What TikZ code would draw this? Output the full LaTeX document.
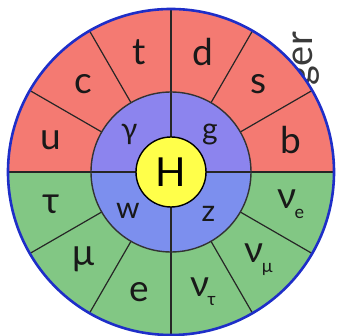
\documentclass[tikz,border=0pt]{standalone}
\usepackage{fontspec}
\setmainfont{Lato}

\definecolor{quarkred}{HTML}{F47A72}
\definecolor{leptongreen}{HTML}{82C784}
\definecolor{gaugeviolet}{HTML}{8C84EE}
\definecolor{gaugeblue}{HTML}{7C8FEE}
\definecolor{higgsyellow}{HTML}{FFFF4A}
\definecolor{rimblue}{HTML}{1E2EC8}
\definecolor{sidegray}{HTML}{3A3A3A}

\tikzset{
  divider/.style={draw=black!85,line width=1.2pt},
  outerlabel/.style={font=\fontsize{37}{37}\selectfont,text=black!90},
  innerlabel/.style={font=\fontsize{30}{30}\selectfont,text=black!90},
}
\newcommand{\nusub}[1]{ν\kern-0.05em\raisebox{-0.25em}{\fontsize{18}{18}\selectfont #1}}

\begin{document}
\begin{tikzpicture}[x=1pt,y=1pt]
    \useasboundingbox (-171,-164) rectangle (166,172);
    % cut-off side title
    \node[rotate=90,anchor=base east,inner sep=0pt,text=sidegray,
          font=\fontsize{38}{38}\selectfont] (side) at (141,140) {ger};
    % outer ring
    \fill[quarkred] (0,0) -- (0:163pt) arc (0:180:163pt) -- cycle;
    \fill[leptongreen] (0,0) -- (180:163pt) arc (180:360:163pt) -- cycle;
    \foreach \a in {0,30,...,330}
        \draw[divider] (\a:80pt) -- (\a:163pt);
    % middle ring
    \fill[gaugeviolet] (0,0) -- (0:80pt) arc (0:180:80pt) -- cycle;
    \fill[gaugeblue] (0,0) -- (180:80pt) arc (180:360:80pt) -- cycle;
    \draw[divider] (-80,0) -- (80,0);
    \draw[divider] (0,-80) -- (0,80);
    \draw[draw=black!80,line width=1.4pt] (0,0) circle (80pt);
    % centre
    \filldraw[fill=higgsyellow,draw=black,line width=1.4pt] (0,0) circle (35pt);
    \node[font=\fontsize{40}{40}\selectfont] (higgs) at (0,0) {H};
    \draw[rimblue,line width=2.6pt] (0,0) circle (163pt);
    % quarks
    \foreach \lab/\ang in {b/15,s/45,d/75,t/105,c/135,u/165}
        \node[outerlabel] (q\lab) at (\ang:124pt) {\lab};
    % leptons
    \node[outerlabel] (tau) at (195:124pt) {τ};
    \node[outerlabel] (mu) at (225:124pt) {μ};
    \node[outerlabel] (el) at (255:124pt) {e};
    \node[outerlabel] (nutau) at (285:124pt) {\nusub{τ}};
    \node[outerlabel] (numu) at (315:124pt) {\nusub{μ}};
    \node[outerlabel] (nue) at (345:124pt) {\nusub{e}};
    % gauge bosons
    \node[innerlabel] (photon) at (138:56pt) {γ};
    \node[innerlabel] (gluon) at (44:54pt) {g};
    \node[innerlabel] (wboson) at (222:58pt) {w};
    \node[innerlabel] (zboson) at (312:56pt) {z};
\end{tikzpicture}
\end{document}
